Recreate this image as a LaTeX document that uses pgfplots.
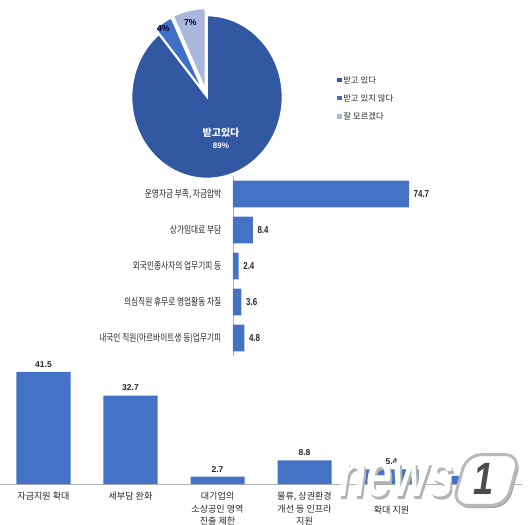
\documentclass[border=0pt]{standalone}
\usepackage{pgfplots}
\pgfplotsset{compat=1.18}
\usepackage{pgfplotstable}
\usetikzlibrary{calc}
\usepackage{fontspec}
\setmainfont{Noto Sans CJK KR}
\newfontfamily\kcond[FakeStretch=0.78]{Noto Sans CJK KR}
\newfontfamily\numcond[FakeStretch=0.78]{Liberation Sans}
\newfontfamily\numfont{Liberation Sans}
\newfontfamily\logofont{Liberation Sans}
\pgfkeys{/pgf/number format/assume math mode=true}

\definecolor{pieA}{HTML}{3358A2}
\definecolor{pieB}{HTML}{4070C6}
\definecolor{pieC}{HTML}{A9B7DD}
\definecolor{barblue}{HTML}{4472C4}

% survey shares (%)
\pgfplotstableread[row sep=\\]{
idx share\\
0 89\\
1 4\\
2 7\\
}\pieTab

\pgfplotstableread[row sep=\\]{
idx share\\
0 74.7\\
1 8.4\\
2 2.4\\
3 3.6\\
4 4.8\\
}\barsH

\pgfplotstableread[row sep=\\]{
idx share\\
0 41.5\\
1 32.7\\
2 2.7\\
3 8.8\\
4 5.4\\
5 3.0\\
}\barsV

\begin{document}
\begin{tikzpicture}
% canvas: 1px = 0.75pt, y grows downward from the top edge
\path[use as bounding box] (0,0) rectangle (396.75pt,-393.75pt);

% cumulative angles of the pie, clockwise from 12 o'clock
\pgfplotstablegetelem{0}{share}\of\pieTab \let\va\pgfplotsretval
\pgfplotstablegetelem{1}{share}\of\pieTab \let\vb\pgfplotsretval
\pgfplotstablegetelem{2}{share}\of\pieTab \let\vc\pgfplotsretval
\pgfmathsetmacro\aA{90}
\pgfmathsetmacro\aB{\aA-3.6*\va}
\pgfmathsetmacro\aC{\aB-3.6*\vb}
\pgfmathsetmacro\aD{\aC-3.6*\vc}
\pgfmathsetmacro\mA{(\aA+\aB)/2}
\pgfmathsetmacro\mB{(\aB+\aC)/2}
\pgfmathsetmacro\mC{(\aC+\aD)/2}

% ---------- pie ----------
\begin{axis}[at={(155.25pt,-72.75pt)}, anchor=center, hide axis, scale only axis,
  width=150pt, height=150pt, xmin=-100, xmax=100, ymin=-100, ymax=100, clip=false]
\fill[pieA, draw=white, line width=1.2pt] (axis cs:0,0) -- ++(\aA:56.6pt and 61.1pt)
  arc[start angle=\aA, end angle=\aB, x radius=56.6pt, y radius=61.1pt] -- cycle;
\fill[pieB, draw=white, line width=1.2pt, shift={(\mB:5pt)}] (axis cs:0,0) -- ++(\aB:56.6pt and 61.1pt)
  arc[start angle=\aB, end angle=\aC, x radius=56.6pt, y radius=61.1pt] -- cycle;
\fill[pieC, draw=white, line width=1.2pt, shift={(\mC:5.5pt)}] (axis cs:0,0) -- ++(\aC:56.6pt and 61.1pt)
  arc[start angle=\aC, end angle=\aD, x radius=56.6pt, y radius=61.1pt] -- cycle;
\node[text=white, align=center, font=\bfseries\fontsize{7.5}{10}\selectfont]
  at ($(axis cs:0,0)+(\mA:31pt and 33pt)$)
  {받고있다\\[-1pt]{\numfont\fontsize{6}{7}\selectfont\pgfmathprintnumber{\va}\%}};
\node[text=black!80!blue, font=\numfont\bfseries\fontsize{6.5}{8}\selectfont]
  at ($(axis cs:0,0)+(\mB:61pt)$) {\pgfmathprintnumber{\vb}\%};
\node[text=black!80!blue, font=\numfont\bfseries\fontsize{6.5}{8}\selectfont]
  at ($(axis cs:0,0)+(\mC:57pt)$) {\pgfmathprintnumber{\vc}\%};
\end{axis}

% pie legend
\foreach \c/\t [count=\i from 0] in {pieA/받고 있다, pieB/받고 있지 않다, pieC/잘 모르겠다}{
  \fill[\c] ({252.75pt},{-(80+18.2*\i)*0.75pt-1.6pt}) rectangle ++(3.4pt,3.4pt);
  \node[anchor=west, inner sep=0pt, font=\fontsize{6.3}{7}\selectfont, text=black!85]
    at ({257.25pt},{-(80+18.2*\i)*0.75pt}) {\t};
}

% ---------- horizontal bars ----------
\begin{axis}[at={(174.75pt,-267pt)}, anchor=south west, scale only axis,
  width=141.4pt, height=135pt, xbar, bar width=20pt,
  xmin=0, xmax=80, ymin=-0.5, ymax=4.5, y dir=reverse,
  ytick={0,1,2,3,4},
  yticklabels={{운영자금 부족, 자금압박},{상가임대료 부담},{외국인종사자의 업무기피 등},
    {의심직원 휴무로 영업활동 차질},{내국인 직원(아르바이트생 등)업무기피}},
  hide x axis, axis y line*=left, y axis line style={draw=gray!60, -},
  ytick style={draw=none},
  yticklabel style={font=\kcond\fontsize{7.4}{9}\selectfont, text=black!85, xshift=-1pt},
  nodes near coords,
  nodes near coords style={font=\numcond\bfseries\fontsize{7.6}{9}\selectfont, text=black!85,
    /pgf/number format/.cd, fixed, fixed zerofill, precision=1, assume math mode=true},
  clip=false]
\addplot[fill=barblue, draw=none] table[x=share, y=idx] {\barsH};
\end{axis}

% ---------- vertical bars ----------
\begin{axis}[at={(0pt,-363pt)}, anchor=south west, scale only axis,
  width=391.5pt, height=91.1pt, ybar, bar width=40.5pt,
  xmin=-0.5, xmax=5.5, ymin=0, ymax=45,
  xtick={0,1,2,3,4,5},
  xticklabels={{자금지원 확대},{세부담 완화},{대기업의\\소상공인 영역\\진출 제한},
    {물류, 상권환경\\개선 등 인프라\\지원},{\strut\\확대 지원},{}},
  hide y axis, axis x line*=bottom, x axis line style={draw=gray!60, -},
  xtick style={draw=none},
  xticklabel style={align=center, font=\fontsize{6.8}{9.2}\selectfont, text=black!85,
    anchor=north, yshift=1.5pt},
  nodes near coords,
  nodes near coords style={font=\numfont\bfseries\fontsize{6.4}{8}\selectfont, text=black!85,
    /pgf/number format/.cd, fixed, fixed zerofill, precision=1, assume math mode=true},
  clip=false]
\addplot[fill=barblue, draw=none] table[x=idx, y=share] {\barsV};
\end{axis}

% ---------- watermark ----------
\begin{scope}[shift={(297pt,-360pt)}]
  \node[text=gray!60, font=\logofont\bfseries\itshape\fontsize{48}{48}\selectfont, xscale=0.72]
    at (1.8pt,-1.8pt) {news};
  \node[text=white, font=\logofont\bfseries\itshape\fontsize{48}{48}\selectfont, xscale=0.72]
    at (0,0) {news};
\end{scope}
\begin{scope}[shift={(363.75pt,-360pt)}, xslant=0.28]
  \fill[gray!70, rounded corners=11pt] (-17pt,-21pt) rectangle (23pt,17pt);
  \filldraw[fill=white, draw=gray!55, line width=2.2pt, rounded corners=11pt]
    (-19pt,-19pt) rectangle (21pt,19pt);
  \node[text=gray!60!black, font=\logofont\bfseries\itshape\fontsize{34}{34}\selectfont, xscale=0.8]
    at (-1pt,1pt) {1};
\end{scope}
\end{tikzpicture}
\end{document}
